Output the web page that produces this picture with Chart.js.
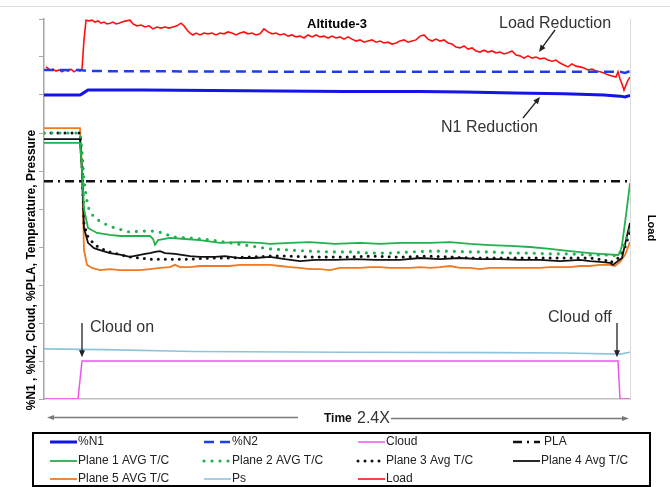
<!DOCTYPE html>
<html>
<head>
<meta charset="utf-8">
<script src="https://cdn.jsdelivr.net/npm/chart.js@4/dist/chart.umd.min.js"></script>
<style>
  html, body { margin: 0; padding: 0; background: #fff; }
  #wrap { width: 670px; height: 487px; }
</style>
</head>
<body>
<div id="wrap"><canvas id="c" width="670" height="487"></canvas></div>
<script>
// ---- Engine run, Altitude-3: time base in seconds, values in % of scale ----
const n1Time = [0, 36, 38, 44, 100, 200, 300, 376, 420, 470, 520, 560, 576, 581, 586];
const n1     = [80.0, 80.0, 80.3, 81.3, 81.3, 81.1, 80.9, 80.9, 80.8, 80.5, 80.3, 80.0, 79.7, 79.5, 79.9];

const n2Time = [0, 36, 44, 150, 300, 576, 581, 586];
const n2     = [86.6, 86.6, 86.3, 86.2, 86.1, 86.1, 85.8, 86.3];

const cloudTime = [0, 34, 38, 574, 576, 586];
const cloud     = [0, 0, 10, 10, 0, 0];

const plaTime = [0, 586];
const pla     = [57.3, 57.3];

const plane1Time = [0, 36, 38, 40, 44, 53, 66, 76, 91, 106, 109, 111, 114, 126, 141, 156, 176, 196, 216, 226, 246, 266, 291, 316, 336, 356, 386, 406, 426, 446, 466, 486, 506, 526, 546, 556, 574, 576, 578, 582, 586];
const plane1     = [67.4, 67.4, 60.0, 50.0, 45.0, 43.7, 43.2, 42.9, 42.9, 42.9, 42.1, 40.6, 41.8, 42.4, 42.1, 41.8, 41.1, 41.3, 41.1, 40.8, 41.1, 41.3, 40.8, 41.1, 40.8, 41.1, 41.1, 41.3, 40.8, 40.5, 40.3, 40.0, 39.5, 38.9, 38.4, 38.2, 37.9, 38.4, 40.5, 48.4, 56.8];

const plane2Time = [0, 36, 38, 40, 42, 44, 47, 49, 54, 63, 71, 78, 86, 96, 111, 119, 129, 146, 169, 186, 206, 226, 246, 266, 286, 306, 326, 346, 366, 386, 406, 426, 446, 466, 486, 506, 526, 546, 566, 574, 578, 582, 586];
const plane2     = [70.0, 70.0, 65.0, 57.5, 53.7, 50.5, 49.2, 48.2, 47.1, 45.8, 45.0, 44.5, 43.9, 44.2, 44.2, 43.7, 42.6, 42.4, 41.8, 41.1, 40.3, 39.5, 39.2, 38.9, 38.7, 38.7, 38.4, 38.4, 38.7, 38.9, 38.9, 38.7, 38.7, 38.4, 38.4, 38.2, 38.2, 37.9, 37.9, 37.6, 39.5, 42.0, 44.5];

const plane3Time = [0, 36, 38, 40, 44, 51, 58, 66, 76, 86, 96, 106, 126, 146, 166, 186, 206, 226, 246, 266, 286, 306, 326, 346, 366, 386, 406, 426, 446, 466, 486, 506, 526, 546, 561, 566, 571, 576, 581, 586];
const plane3     = [70.0, 70.0, 62.0, 46.0, 42.6, 40.5, 39.5, 38.7, 38.0, 37.4, 37.1, 36.8, 36.8, 36.8, 37.1, 37.1, 37.4, 37.6, 37.6, 37.4, 37.4, 37.4, 37.6, 37.4, 37.4, 37.6, 37.4, 37.1, 37.1, 37.1, 37.1, 37.1, 37.1, 37.1, 36.6, 35.8, 36.6, 37.4, 40.0, 43.9];

const plane4Time = [0, 36, 38, 40, 44, 50, 56, 66, 76, 86, 96, 101, 106, 111, 116, 121, 131, 146, 156, 171, 181, 196, 211, 226, 241, 256, 271, 291, 311, 331, 356, 376, 396, 416, 436, 456, 476, 496, 516, 536, 546, 556, 566, 569, 574, 578, 582, 586];
const plane4     = [68.4, 68.4, 60.0, 45.0, 41.1, 39.7, 39.2, 38.4, 38.0, 37.4, 37.9, 38.2, 38.4, 38.7, 38.9, 38.4, 38.2, 37.6, 37.4, 37.4, 37.6, 37.1, 37.1, 37.4, 36.8, 36.3, 36.6, 36.6, 36.8, 36.6, 36.6, 37.1, 36.8, 37.1, 36.8, 36.8, 36.6, 36.6, 36.3, 36.6, 36.3, 36.1, 35.8, 35.3, 36.3, 37.1, 41.8, 46.3];

const plane5Time = [0, 36, 38, 40, 43, 48, 56, 66, 76, 86, 96, 106, 116, 126, 131, 136, 146, 156, 166, 176, 186, 196, 206, 216, 226, 236, 246, 256, 266, 276, 286, 296, 306, 316, 326, 336, 346, 356, 366, 376, 386, 396, 406, 416, 426, 436, 446, 456, 466, 476, 486, 496, 506, 516, 526, 536, 546, 556, 566, 571, 576, 581, 586];
const plane5     = [71.3, 71.3, 60.3, 39.2, 35.3, 34.5, 33.9, 34.2, 33.9, 33.9, 33.9, 34.2, 34.5, 34.7, 35.3, 34.7, 34.7, 35.0, 35.0, 35.0, 35.0, 35.3, 35.3, 35.3, 35.3, 35.0, 34.7, 34.5, 34.2, 34.2, 33.9, 34.5, 34.5, 34.5, 34.7, 34.7, 34.5, 34.5, 34.5, 34.7, 34.5, 34.7, 35.0, 34.5, 34.5, 34.2, 34.5, 34.5, 34.5, 34.5, 34.5, 34.5, 34.7, 34.7, 34.7, 35.0, 35.0, 35.3, 35.3, 35.0, 36.1, 37.9, 41.3];

const psTime = [0, 60, 150, 300, 450, 520, 576, 586];
const ps     = [13.2, 13.0, 12.5, 12.3, 12.2, 12.1, 11.8, 12.3];

const loadTime = [2, 6, 9, 12, 15, 18, 21, 24, 27, 30, 33, 36, 38, 40, 42, 45, 48, 51, 54, 57, 60, 63, 66, 69, 72, 75, 78, 82, 86, 89, 93, 97, 101, 105, 109, 113, 117, 121, 125, 129, 133, 137, 140, 143, 146, 149, 152, 156, 160, 164, 168, 172, 176, 180, 184, 188, 192, 196, 200, 204, 208, 212, 216, 220, 224, 228, 232, 236, 240, 244, 248, 252, 256, 260, 264, 268, 272, 276, 280, 284, 288, 292, 296, 300, 304, 308, 312, 316, 320, 324, 328, 332, 336, 340, 344, 348, 352, 356, 360, 364, 368, 372, 376, 380, 384, 388, 392, 396, 400, 404, 408, 412, 416, 420, 424, 428, 432, 436, 440, 444, 448, 452, 456, 460, 464, 468, 472, 476, 480, 484, 488, 492, 496, 500, 504, 508, 512, 516, 520, 524, 528, 532, 536, 540, 544, 548, 552, 556, 560, 564, 568, 572, 574, 576, 578, 580, 582, 584, 586];
const load     = [87.4, 86.6, 86.8, 86.3, 86.6, 86.1, 86.6, 86.3, 86.8, 86.1, 86.6, 86.3, 86.8, 94.5, 99.7, 99.5, 99.7, 99.2, 99.5, 98.9, 99.2, 98.7, 98.9, 99.2, 98.7, 98.9, 99.2, 99.5, 99.7, 98.7, 98.2, 98.4, 97.9, 98.2, 97.4, 97.9, 97.6, 97.9, 97.6, 97.9, 98.2, 98.9, 98.2, 97.1, 96.3, 95.8, 96.3, 95.8, 96.3, 96.1, 96.3, 95.8, 96.3, 96.1, 96.6, 96.3, 95.8, 96.3, 96.6, 96.1, 96.3, 95.8, 96.1, 97.4, 96.6, 96.1, 96.3, 95.8, 96.1, 95.5, 95.8, 95.3, 95.5, 95.0, 95.8, 95.3, 95.8, 95.3, 95.5, 95.0, 95.5, 95.0, 95.3, 94.7, 95.3, 94.7, 94.2, 94.5, 93.9, 94.2, 94.5, 93.9, 94.2, 93.7, 93.9, 93.4, 93.7, 94.2, 94.5, 93.9, 94.2, 94.5, 95.5, 95.8, 94.7, 94.2, 94.7, 94.2, 94.5, 93.7, 93.4, 92.6, 92.4, 92.9, 92.1, 92.4, 91.6, 91.3, 91.8, 91.3, 91.6, 91.1, 91.3, 90.8, 91.1, 91.6, 90.5, 90.3, 89.7, 90.3, 89.7, 90.0, 89.5, 89.7, 89.2, 88.9, 89.2, 88.4, 87.9, 87.4, 88.2, 87.6, 87.4, 87.1, 86.6, 86.8, 86.3, 86.1, 85.8, 85.3, 85.0, 84.7, 86.1, 84.2, 82.9, 81.3, 82.6, 83.9, 84.7];

const FONT = "'Liberation Sans', Arial, sans-serif";

function pts(t, v) { return t.map((x, i) => ({ x: x, y: v[i] })); }

const datasets = [
  { label: '%N1', data: pts(n1Time, n1), borderColor: '#1414e6', borderWidth: 3 },
  { label: '%N2', data: pts(n2Time, n2), borderColor: '#1f3fe6', borderWidth: 2.5, borderDash: [10, 6] },
  { label: 'Cloud', data: pts(cloudTime, cloud), borderColor: '#ee55ee', borderWidth: 1.5 },
  { label: 'PLA', data: pts(plaTime, pla), borderColor: '#111111', borderWidth: 2.5, borderDash: [9, 5, 2, 5] },
  { label: 'Plane 1 AVG T/C', data: pts(plane1Time, plane1), borderColor: '#23b14d', borderWidth: 1.8 },
  { label: 'Plane 2 AVG T/C', data: pts(plane2Time, plane2), borderColor: '#23b14d', borderWidth: 3.2, borderDash: [0, 8], borderCapStyle: 'round' },
  { label: 'Plane 3 Avg T/C', data: pts(plane3Time, plane3), borderColor: '#111111', borderWidth: 3, borderDash: [0, 7], borderCapStyle: 'round' },
  { label: 'Plane 4 Avg T/C', data: pts(plane4Time, plane4), borderColor: '#111111', borderWidth: 1.8 },
  { label: 'Plane 5 AVG T/C', data: pts(plane5Time, plane5), borderColor: '#f07a24', borderWidth: 1.8 },
  { label: 'Ps', data: pts(psTime, ps), borderColor: '#8fc3dc', borderWidth: 1.6 },
  { label: 'Load', data: pts(loadTime, load), borderColor: '#ff1010', borderWidth: 1.6, yAxisID: 'y1' }
];

function arrow(ctx, x1, y1, x2, y2, color, lw, hl, hw) {
  const a = Math.atan2(y2 - y1, x2 - x1);
  const c = Math.cos(a), s = Math.sin(a);
  ctx.save();
  ctx.strokeStyle = color; ctx.fillStyle = color; ctx.lineWidth = lw;
  ctx.beginPath();
  ctx.moveTo(x1, y1);
  ctx.lineTo(x2 - c * hl * 0.8, y2 - s * hl * 0.8);
  ctx.stroke();
  ctx.beginPath();
  ctx.moveTo(x2, y2);
  ctx.lineTo(x2 - hl * c + hw * s, y2 - hl * s - hw * c);
  ctx.lineTo(x2 - hl * c - hw * s, y2 - hl * s + hw * c);
  ctx.closePath();
  ctx.fill();
  ctx.restore();
}

// Background, frame line, labels, arrows and the boxed legend
const decorations = {
  id: 'decorations',
  beforeDraw(chart) {
    const { ctx, width, height } = chart;
    ctx.save();
    ctx.fillStyle = '#fff';
    ctx.fillRect(0, 0, width, height);
    ctx.strokeStyle = '#dcdcdc';
    ctx.lineWidth = 1;
    ctx.beginPath(); ctx.moveTo(0, 6.5); ctx.lineTo(width, 6.5); ctx.stroke();
    ctx.restore();
  },
  afterDraw(chart) {
    const { ctx, chartArea: a, scales } = chart;
    const xs = scales.x, ys = scales.y;
    ctx.save();

    // title inside plot
    ctx.fillStyle = '#000';
    ctx.textAlign = 'center';
    ctx.textBaseline = 'alphabetic';
    ctx.font = 'bold 13px ' + FONT;
    ctx.fillText('Altitude-3', (a.left + a.right) / 2, 28);

    // callouts
    ctx.fillStyle = '#333';
    ctx.textAlign = 'left';
    ctx.font = '16px ' + FONT;
    ctx.fillText('Load Reduction', 499, 28);
    ctx.fillText('N1 Reduction', 441, 132);
    ctx.fillText('Cloud on', 90, 332);
    ctx.fillText('Cloud off', 548, 322);

    arrow(ctx, 555, 30, 539, 52, '#222', 1.3, 7, 3);
    arrow(ctx, 523, 118, 540, 97, '#222', 1.3, 7, 3);
    const onX = xs.getPixelForValue(38), offX = xs.getPixelForValue(573);
    arrow(ctx, onX, 323, onX, ys.getPixelForValue(11), '#222', 1.3, 7, 3);
    arrow(ctx, offX, 323, offX, ys.getPixelForValue(11), '#222', 1.3, 7, 3);

    // time direction
    ctx.fillStyle = '#111';
    ctx.font = 'bold 12px ' + FONT;
    ctx.fillText('Time', 324, 422);
    ctx.font = '16px ' + FONT;
    ctx.fillStyle = '#333';
    ctx.fillText('2.4X', 357, 423);
    arrow(ctx, 298, 417.5, 47, 417.5, '#7a7a7a', 1.5, 7, 2.5);
    arrow(ctx, 391, 418.5, 629, 418.5, '#7a7a7a', 1.5, 7, 2.5);

    // axis titles
    ctx.fillStyle = '#000';
    ctx.textAlign = 'center';
    ctx.textBaseline = 'middle';
    ctx.save();
    ctx.translate(32, 270);
    ctx.rotate(-Math.PI / 2);
    ctx.font = 'bold 12px ' + FONT;
    ctx.fillText('%N1 , %N2, Cloud, %PLA, Temperature, Pressure', 0, 0);
    ctx.restore();
    ctx.save();
    ctx.translate(651, 228);
    ctx.rotate(Math.PI / 2);
    ctx.font = 'bold 11px ' + FONT;
    ctx.fillText('Load', 0, 0);
    ctx.restore();

    // legend box
    ctx.strokeStyle = '#000';
    ctx.lineWidth = 2;
    ctx.strokeRect(33, 433, 617, 53);
    const cols = [50, 204, 358, 513];
    const rows = [442, 461, 479];
    const sampleLen = 27;
    ctx.font = '12px ' + FONT;
    ctx.textAlign = 'left';
    ctx.textBaseline = 'middle';
    chart.data.datasets.forEach((ds, i) => {
      const cx = cols[i % 4], cy = rows[Math.floor(i / 4)];
      ctx.save();
      ctx.strokeStyle = ds.borderColor;
      ctx.lineWidth = ds.borderWidth;
      ctx.lineCap = ds.borderCapStyle || 'butt';
      ctx.setLineDash(ds.borderDash || []);
      ctx.beginPath();
      ctx.moveTo(cx, cy); ctx.lineTo(cx + sampleLen, cy);
      ctx.stroke();
      ctx.restore();
      ctx.fillStyle = '#222';
      ctx.fillText(ds.label, cx + sampleLen + (ds.label === 'PLA' ? 4 : 1), cy);
    });
    ctx.restore();
  }
};

Chart.defaults.font.family = FONT;

new Chart(document.getElementById('c'), {
  type: 'line',
  data: { datasets: datasets },
  options: {
    responsive: false,
    animation: false,
    events: [],
    layout: { padding: { left: 39, top: 19, right: 40, bottom: 88 }, autoPadding: false },
    elements: { point: { radius: 0 }, line: { tension: 0, fill: false } },
    plugins: { legend: { display: false }, tooltip: { enabled: false }, title: { display: false } },
    scales: {
      x: {
        type: 'linear', min: 0, max: 586,
        ticks: { display: false },
        grid: { display: false, drawTicks: false },
        border: { display: true, color: '#bfbfbf', width: 1.5 }
      },
      y: {
        position: 'left', min: 0, max: 100,
        ticks: { display: false, stepSize: 10 },
        grid: { drawOnChartArea: false, drawTicks: true, tickLength: 5, color: '#a6a6a6' },
        border: { display: true, color: '#a6a6a6', width: 1.5 }
      },
      y1: {
        position: 'right', min: 0, max: 100,
        ticks: { display: false },
        grid: { display: false, drawTicks: false },
        border: { display: true, color: '#d9d9d9', width: 1 }
      }
    }
  },
  plugins: [decorations]
});
</script>
</body>
</html>
